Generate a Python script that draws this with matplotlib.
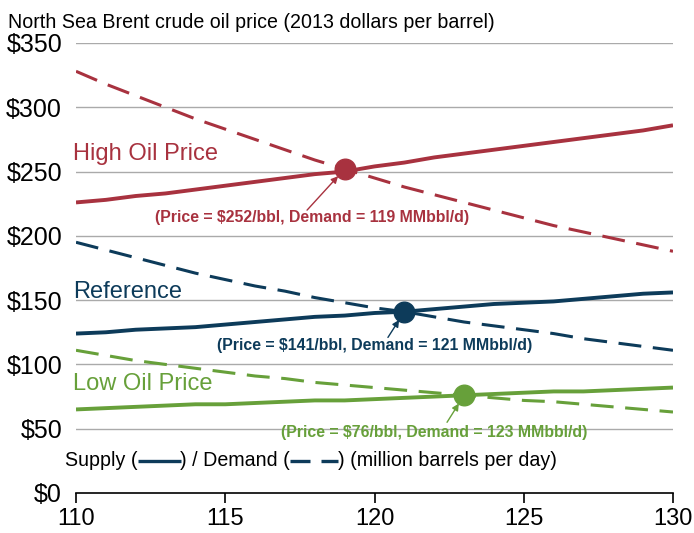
import matplotlib
matplotlib.use("Agg")
import matplotlib.pyplot as plt
import numpy as np

plt.rcParams['font.family'] = ['Liberation Sans', 'DejaVu Sans']

# supply / demand (million barrels per day) on x, price on y
demanda = np.arange(110, 131)

alta_oferta = [226, 228, 231, 233, 236, 239, 242, 245, 248, 250, 254, 257, 261, 264, 267, 270, 273, 276, 279, 282, 286]
alta_demanda = [328, 318, 309, 300, 291, 283, 275, 267, 259, 252, 245, 238, 232, 226, 220, 214, 208, 203, 198, 193, 188]
ref_oferta = [124, 125, 127, 128, 129, 131, 133, 135, 137, 138, 140, 141, 143, 145, 147, 148, 149, 151, 153, 155, 156]
ref_demanda = [195, 189, 183, 177, 171, 166, 161, 157, 152, 148, 144, 141, 137, 133, 130, 127, 124, 120, 117, 114, 111]
baixa_oferta = [65, 66, 67, 68, 69, 69, 70, 71, 72, 72, 73, 74, 75, 76, 77, 78, 79, 79, 80, 81, 82]
baixa_demanda = [111, 107, 103, 100, 97, 94, 91, 89, 86, 84, 82, 80, 78, 76, 74, 72, 71, 69, 67, 65, 63]

cenarios = ["High Oil Price", "Reference", "Low Oil Price"]
cores = ["#a8323f", "#0d3b5a", "#67a03a"]
equilibrio_x = [119, 121, 123]
equilibrio_y = [252, 141, 76]
rotulos = ["(Price = $252/bbl, Demand = 119 MMbbl/d)",
           "(Price = $141/bbl, Demand = 121 MMbbl/d)",
           "(Price = $76/bbl, Demand = 123 MMbbl/d)"]

fig = plt.figure(figsize=(6.94, 5.33), dpi=100)
ax = fig.add_axes([76/694, 1 - 493/533, 597/694, 450/533])

ofertas = [alta_oferta, ref_oferta, baixa_oferta]
demandas = [alta_demanda, ref_demanda, baixa_demanda]

for y in [50, 100, 150, 200, 250, 300, 350]:
    ax.axhline(y, color='#aaaaaa', lw=1, zorder=1)

for i in range(3):
    ax.plot(demanda, ofertas[i], color=cores[i], lw=2.8, zorder=3, solid_capstyle='butt')
    ax.plot(demanda, demandas[i], color=cores[i], lw=2.2, dashes=(7.5, 3.8), zorder=3)
    ax.scatter([equilibrio_x[i]], [equilibrio_y[i]], s=220, color=cores[i], zorder=4)

# nomes dos cenarios
ax.text(109.9, 264, cenarios[0], color=cores[0], fontsize=17, va='center', ha='left')
ax.text(109.9, 156, cenarios[1], color=cores[1], fontsize=17, va='center', ha='left')
ax.text(109.9, 85, cenarios[2], color=cores[2], fontsize=17, va='center', ha='left')

# anotacoes e setas
pos_texto = [(117.9, 214), (120.02, 115), (121.99, 47)]
pos_seta = [(117.74, 220), (120.45, 121), (122.43, 55)]
for i in range(3):
    ax.text(pos_texto[i][0], pos_texto[i][1], rotulos[i], color=cores[i], fontsize=11.4,
            fontweight='bold', ha='center', va='center', zorder=5)
    ax.annotate("", xy=(equilibrio_x[i], equilibrio_y[i]), xytext=pos_seta[i],
                arrowprops=dict(arrowstyle='-|>', color=cores[i], lw=1, shrinkA=0, shrinkB=7,
                                mutation_scale=10), zorder=5)

ax.set_xlim(110, 130)
ax.set_ylim(0, 350)
ax.set_xticks([110, 115, 120, 125, 130])
ax.set_yticks([0, 50, 100, 150, 200, 250, 300, 350])
ax.set_yticklabels(['$0', '$50', '$100', '$150', '$200', '$250', '$300', '$350'])
for s in ['top', 'right', 'left']:
    ax.spines[s].set_visible(False)
ax.spines['bottom'].set_color('black')
ax.spines['bottom'].set_linewidth(1.2)
ax.tick_params(axis='y', length=0, labelsize=18, pad=10)
ax.tick_params(axis='x', length=7, width=1.2, direction='out', labelsize=17, pad=4)

fig.text(8/694, 1 - 22/533, "North Sea Brent crude oil price (2013 dollars per barrel)",
         fontsize=14.1, va='center', ha='left')

# legenda montada a mao, pedaco por pedaco
ly = 1 - 460/533
renderer = fig.canvas.get_renderer()
x0 = 65 / 694

def pedaco(texto, x):
    t = fig.text(x, ly, texto, fontsize=14.1, va='center', ha='left')
    bb = t.get_window_extent(renderer=renderer)
    return x + bb.width / 694

x1 = pedaco("Supply (", x0)
fig.add_artist(plt.Line2D([x1, x1 + 43/694], [ly - 0.002, ly - 0.002], color=cores[1], lw=2.4,
                          solid_capstyle='butt'))
x2 = pedaco(") / Demand (", x1 + 43/694)
fig.add_artist(plt.Line2D([x2, x2 + 48/694], [ly - 0.002, ly - 0.002], color=cores[1], lw=2.4,
                          dashes=(6, 3.3), dash_capstyle='butt'))
pedaco(") (million barrels per day)", x2 + 48/694)

fig.savefig("out.png", dpi=100)
